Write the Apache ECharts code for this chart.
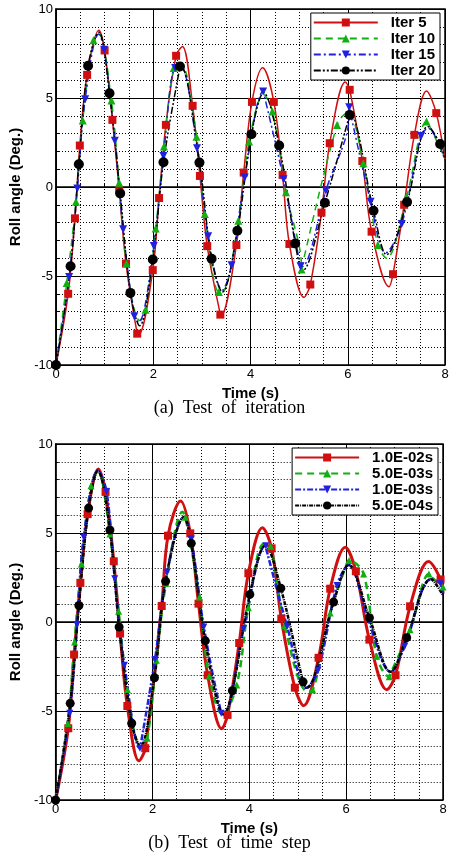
<!DOCTYPE html>
<html>
<head>
<meta charset="utf-8">
<script src="https://cdn.jsdelivr.net/npm/echarts@6/dist/echarts.min.js"></script>
<style>html,body{margin:0;padding:0;background:#fff}#chart{width:459px;height:861px}</style>
</head>
<body>
<div id="chart"></div>
<script>
// (a) test of iteration: curve key points [t, angle] and marker points
var itCurve5 = [[0,-10],[0.88,8.8],[1.7,-8.3],[2.6,7.9],[3.4,-7.2],[4.25,6.7],[5.1,-6.2],[5.95,5.9],[6.85,-5.6],[7.62,5.4],[8,1.5]];
var itMark5 = [[0.25,-6.0],[0.39,-1.76],[0.49,2.33],[0.64,6.3],[1.0,7.67],[1.16,3.77],[1.3,-0.17],[1.44,-4.3],[1.67,-8.24],[1.99,-4.67],[2.12,-0.62],[2.26,3.49],[2.47,7.37],[2.81,4.56],[2.96,0.62],[3.11,-3.32],[3.38,-7.17],[3.71,-3.26],[3.86,0.81],[4.03,4.78],[4.48,4.78],[4.66,0.68],[4.8,-3.2],[5.23,-5.48],[5.46,-1.44],[5.63,2.46],[6.04,5.46],[6.30,1.46],[6.49,-2.51],[6.93,-4.9],[7.16,-1.0],[7.37,2.93],[7.82,4.15]];
var itCurve10 = [[0,-10],[0.88,8.6],[1.72,-7.5],[2.57,6.9],[3.42,-5.9],[4.27,5.2],[5.05,-4.6],[6.0,4.2],[6.8,-4.0],[7.65,3.6],[8,1.6]];
var itMark10 = [[0.22,-5.4],[0.41,-0.83],[0.55,3.73],[0.77,8.24],[1.14,4.86],[1.30,0.24],[1.45,-4.3],[1.84,-6.9],[2.05,-2.33],[2.22,2.27],[2.42,6.68],[2.89,2.83],[3.06,-1.52],[3.35,-5.9],[3.75,-1.9],[3.97,2.55],[4.45,4.24],[4.73,-0.3],[5.05,-4.63],[5.78,3.49],[6.32,1.33],[6.62,-3.26],[7.21,-0.54],[7.62,3.68]];
var itCurve15 = [[0,-10],[0.88,8.6],[1.70,-7.6],[2.57,6.7],[3.42,-5.8],[4.27,5.3],[5.05,-4.5],[6.03,4.1],[6.78,-3.7],[7.65,3.3],[8,1.5]];
var itMark15 = [[0.27,-5.05],[0.44,-0.08],[0.6,4.93],[0.99,7.71],[1.21,2.6],[1.38,-2.38],[1.61,-7.26],[2.01,-3.32],[2.21,1.74],[2.45,6.68],[2.90,2.18],[3.13,-2.76],[3.61,-4.39],[3.88,0.54],[4.26,5.37],[4.68,0.43],[5.03,-4.45],[5.55,-0.2],[6.03,4.48],[6.47,-0.83],[7.11,-2.08],[7.51,2.87]];
var itCurve20 = [[0.88,8.7],[1.72,-7.8],[2.57,6.8],[3.42,-5.9],[4.27,5.3],[5.07,-4.7],[6.05,4.1],[6.8,-3.8],[7.65,3.4],[8,1.5]];
var itMark20 = [[0,-10],[0.30,-4.45],[0.47,1.28],[0.66,6.81],[1.10,5.27],[1.32,-0.36],[1.53,-5.95],[1.99,-4.07],[2.21,1.39],[2.55,6.77],[2.95,1.37],[3.2,-4.03],[3.73,-2.46],[4.02,2.96],[4.59,2.33],[4.92,-3.17],[5.53,-0.88],[6.04,4.05],[6.53,-1.33],[7.22,-0.84],[7.90,2.42]];

// (b) test of time step
var tsCurve1 = [[0,-10],[0.88,8.6],[1.72,-7.8],[2.58,6.8],[3.43,-6.0],[4.27,5.3],[5.12,-4.7],[5.98,4.2],[6.84,-3.8],[7.7,3.4],[8,1.6]];
var tsMark1 = [[0.26,-5.97],[0.38,-1.83],[0.51,2.2],[0.66,6.06],[1.03,7.31],[1.2,3.41],[1.33,-0.65],[1.48,-4.72],[1.85,-7.09],[2.19,0.9],[2.32,4.85],[2.78,4.98],[2.95,1.03],[3.14,-2.99],[3.55,-5.22],[3.79,-1.18],[3.98,2.74],[4.46,4.14],[4.66,0.19],[4.94,-3.69],[5.43,-2.01],[5.67,1.87],[6.2,2.85],[6.48,-0.99],[7.02,-2.99],[7.32,0.88],[7.95,2.39]];
var tsCurve2 = [[0,-10],[0.87,8.5],[1.75,-7.0],[2.62,6.2],[3.45,-5.2],[4.3,4.4],[5.2,-3.9],[6.03,3.4],[6.9,-3.0],[7.73,2.6]];
var tsMark2 = [[0.25,-5.7],[0.39,-1.12],[0.53,3.26],[0.73,7.65],[1.12,4.94],[1.3,0.6],[1.48,-3.79],[1.89,-6.53],[2.08,-2.15],[2.28,2.18],[2.68,5.88],[2.97,1.4],[3.17,-3.04],[3.74,-3.54],[3.98,0.8],[4.44,4.25],[4.73,-0.19],[5.31,-3.82],[5.67,0.5],[6.06,3.45],[6.36,2.7],[6.63,-1.92],[6.89,-3.08],[7.32,-0.43],[7.71,2.7],[8.0,1.96]];
var tsCurve3 = [[0,-10],[0.87,8.5],[1.75,-7.0],[2.65,5.9],[3.48,-5.2],[4.33,4.3],[5.18,-3.7],[6.05,3.2],[6.92,-2.8],[7.75,2.4],[8,1.6]];
var tsMark3 = [[0.29,-5.13],[0.44,-0.15],[0.58,4.76],[1.05,7.33],[1.22,2.43],[1.42,-2.43],[1.74,-7.09],[2.05,-2.11],[2.3,2.8],[2.8,4.66],[3.06,-0.28],[3.42,-5.13],[3.88,-0.37],[4.34,4.29],[4.78,-0.24],[5.42,-2.71],[5.81,2.05],[6.45,0.19],[7.21,-1.36],[7.95,2.15]];
var tsCurve4 = [[0.87,8.5],[1.75,-7.0],[2.65,5.9],[3.48,-5.2],[4.33,4.3],[5.18,-3.7],[6.05,3.2],[6.92,-2.8],[7.75,2.4],[8,1.5]];
var tsMark4 = [[0,-10],[0.3,-4.57],[0.48,0.93],[0.68,6.4],[1.12,5.17],[1.31,-0.28],[1.57,-5.69],[2.04,-3.13],[2.27,2.29],[2.8,4.42],[3.09,-1.06],[3.65,-3.86],[4.01,1.55],[4.65,1.9],[5.11,-3.36],[5.74,1.12],[6.48,0.24],[7.25,-0.88]];

var yTicks = ['-10', '-5', '0', '5', '10'];

function merge(curve, marks) {
    var pts = curve.map(function (p) { return {value: p, symbol: 'none'}; })
        .concat(marks.map(function (p) { return {value: p}; }));
    pts.sort(function (a, b) { return a.value[0] - b.value[0]; });
    return pts;
}

function mkSeries(name, idx, curve, marks, color, dash, sym, size, width) {
    return {
        name: name, type: 'line', xAxisIndex: idx, yAxisIndex: idx,
        data: merge(curve, marks), smooth: 0.35,
        symbol: sym, symbolSize: size, showAllSymbol: true,
        lineStyle: {color: color, width: width, type: dash},
        itemStyle: {color: color}, z: 3
    };
}

function axes(idx) {
    return {
        x: {
            type: 'value', gridIndex: idx, min: 0, max: 8, interval: 2,
            name: 'Time (s)', nameLocation: 'middle', nameGap: 21,
            nameTextStyle: {fontFamily: 'Liberation Sans', fontWeight: 'bold', fontSize: 15, color: '#000'},
            axisLine: {lineStyle: {color: '#000', width: 1.5}},
            axisTick: {inside: true, length: 5, lineStyle: {color: '#000'}},
            axisLabel: {fontFamily: 'Liberation Sans', fontSize: 13, color: '#000', margin: 3},
            splitLine: {lineStyle: {color: '#000', width: 1}},
            minorTick: {show: true, splitNumber: 4, length: 3, lineStyle: {color: '#000'}},
            minorSplitLine: {show: true, lineStyle: {color: '#000', type: [1, 2], width: 1}}
        },
        y: {
            type: 'value', gridIndex: idx, min: -10, max: 10, interval: 5,
            name: 'Roll angle (Deg.)', nameLocation: 'middle', nameGap: 30,
            nameTextStyle: {fontFamily: 'Liberation Sans', fontWeight: 'bold', fontSize: 15, color: '#000'},
            axisLine: {lineStyle: {color: '#000', width: 1.5}},
            axisTick: {inside: true, length: 5, lineStyle: {color: '#000'}},
            axisLabel: {fontFamily: 'Liberation Sans', fontSize: 13, color: '#000', margin: 3,
                formatter: function (v) { return yTicks[(v + 10) / 5]; }},
            splitLine: {lineStyle: {color: '#000', width: 1}},
            minorTick: {show: true, splitNumber: 5, length: 3, lineStyle: {color: '#000'}},
            minorSplitLine: {show: true, lineStyle: {color: '#000', type: [1, 2], width: 1}}
        }
    };
}

var a0 = axes(0), a1 = axes(1);
var legendBase = {
    orient: 'vertical', itemWidth: 64, itemHeight: 10, itemGap: 1,
    backgroundColor: '#fff', borderColor: '#000', borderWidth: 1, borderRadius: 0,
    padding: [2, 5, 2, 2],
    textStyle: {fontFamily: 'Liberation Sans', fontWeight: 'bold', fontSize: 15, color: '#000', padding: [0, 0, 0, 8]}
};

var myChart = echarts.init(document.getElementById('chart'));
var option = {
    animation: false,
    backgroundColor: '#fff',
    grid: [
        {left: 56, top: 9, width: 389, height: 356, show: true, borderColor: '#000', borderWidth: 1.5, backgroundColor: 'transparent'},
        {left: 53, top: 444, width: 390, height: 356, show: true, borderColor: '#000', borderWidth: 1.5, backgroundColor: 'transparent'}
    ],
    xAxis: [a0.x, a1.x],
    yAxis: [a0.y, a1.y],
    legend: [
        Object.assign({right: 19, top: 13, data: ['Iter 5', 'Iter 10', 'Iter 15', 'Iter 20']}, legendBase),
        Object.assign({right: 21, top: 448, data: ['1.0E-02s', '5.0E-03s', '1.0E-03s', '5.0E-04s']}, legendBase)
    ],
    graphic: [
        {type: 'text', left: 'center', top: 399, style: {text: '(a)  Test  of  iteration', font: '18px "Liberation Serif"', fill: '#000'}},
        {type: 'text', left: 'center', top: 834, style: {text: '(b)  Test  of  time  step', font: '18px "Liberation Serif"', fill: '#000'}}
    ],
    series: [
        mkSeries('Iter 5', 0, itCurve5, itMark5, '#d01010', 'solid', 'rect', 8, 1.5),
        mkSeries('Iter 10', 0, itCurve10, itMark10, '#10b010', [7, 5], 'triangle', 8, 1.5),
        mkSeries('Iter 15', 0, itCurve15, itMark15, '#2020e0', [7, 3, 2, 3], 'path://M0,0L10,0L5,10Z', 8, 1.5),
        mkSeries('Iter 20', 0, itCurve20, itMark20, '#000', [7, 2, 2, 2, 2, 2], 'circle', 10, 1.5),
        mkSeries('1.0E-02s', 1, tsCurve1, tsMark1, '#d01010', 'solid', 'rect', 8, 3),
        mkSeries('5.0E-03s', 1, tsCurve2, tsMark2, '#10b010', [7, 5], 'triangle', 7, 2.5),
        mkSeries('1.0E-03s', 1, tsCurve3, tsMark3, '#2020e0', [6, 2, 2, 2], 'path://M0,0L10,0L5,10Z', 7, 2.5),
        mkSeries('5.0E-04s', 1, tsCurve4, tsMark4, '#000', [4, 1, 1, 1], 'circle', 9, 2.5)
    ]
};
myChart.setOption(option);
</script>
</body>
</html>
